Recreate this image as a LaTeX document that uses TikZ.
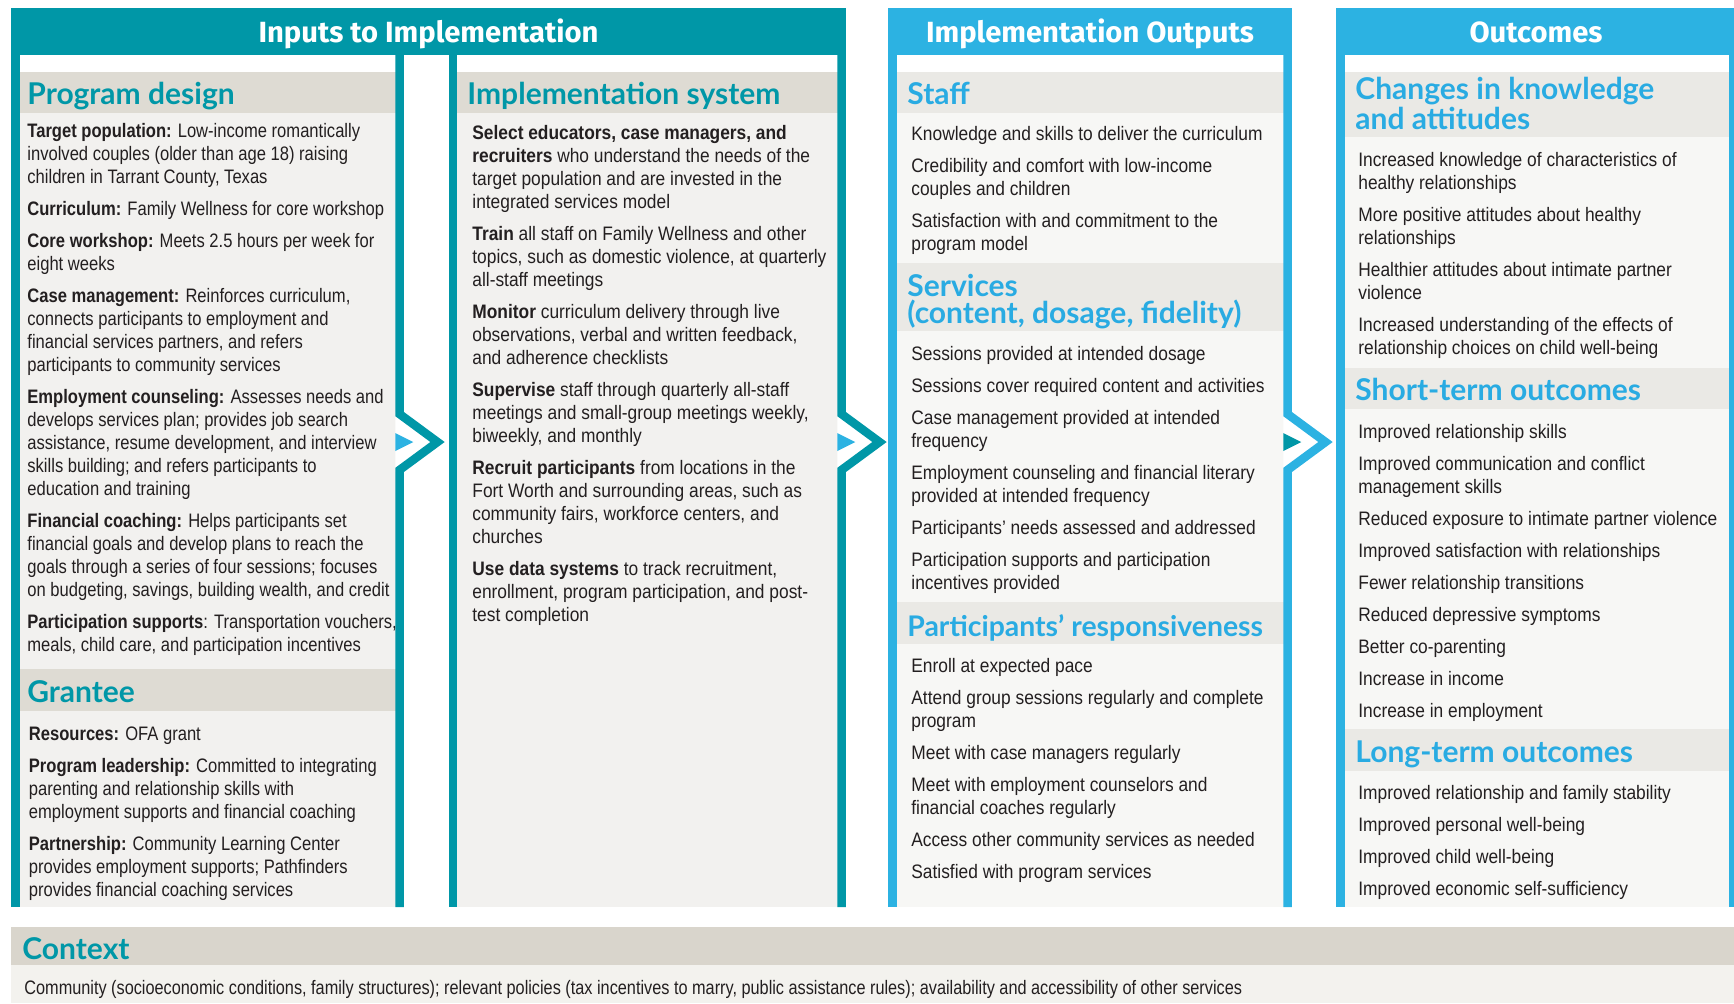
\documentclass[tikz,border=0pt]{standalone}
\usepackage{fontspec}
\setmainfont{Liberation Sans}[FakeStretch=0.89]
\newfontfamily\narrowfont{Liberation Sans}[FakeStretch=0.85]
\newfontfamily\headfont{Lato}
\newfontfamily\colfont{Fira Sans}
\newfontfamily\ctxfont{Liberation Sans}[FakeStretch=0.835]

\definecolor{tealrim}{RGB}{0,151,167}
\definecolor{skyrim}{RGB}{44,178,226}
\definecolor{skyhead}{RGB}{41,171,226}
\definecolor{bandA}{RGB}{222,219,211}
\definecolor{fillA}{RGB}{242,241,239}
\definecolor{bandB}{RGB}{234,233,229}
\definecolor{fillB}{RGB}{247,247,245}
\definecolor{ctxband}{RGB}{217,213,204}
\definecolor{ctxfill}{RGB}{243,242,238}
\definecolor{inkgray}{RGB}{35,31,32}

\begin{document}
\begin{tikzpicture}[x=0.5pt, y=-0.5pt]
\tikzstyle{rim}=[line width=4.25pt]
\tikzstyle{colhead}=[anchor=base, inner sep=0pt, text=white, font=\colfont\bfseries\fontsize{14.6}{16}\selectfont]
\tikzstyle{heada}=[anchor=base west, align=left, inner sep=0pt, text=tealrim, font=\headfont\bfseries\fontsize{15}{13.5}\selectfont]
\tikzstyle{headb}=[heada, text=skyhead]
\tikzstyle{body}=[anchor=base west, align=left, inner sep=0pt, text=inkgray, font=\fontsize{9.75}{11.5}\selectfont]
\tikzstyle{narrowbody}=[body, font=\narrowfont\fontsize{9.75}{11.5}\selectfont]

\useasboundingbox (0,0) rectangle (1734,1003);

\fill[bandA] (20,72) rectangle (399.5,113);
\fill[fillA] (20,113) rectangle (399.5,669);
\fill[bandA] (20,669) rectangle (399.5,711);
\fill[fillA] (20,711) rectangle (399.5,907);
\fill[bandA] (453,72) rectangle (841.5,113);
\fill[fillA] (453,113) rectangle (841.5,907);

\fill[bandB] (892.5,72) rectangle (1287.5,113);
\fill[fillB] (892.5,113) rectangle (1287.5,263);
\fill[bandB] (892.5,263) rectangle (1287.5,331);
\fill[fillB] (892.5,331) rectangle (1287.5,602);
\fill[bandB] (892.5,602) rectangle (1287.5,644);
\fill[fillB] (892.5,644) rectangle (1287.5,907);

\fill[bandB] (1340.5,72) rectangle (1733.5,137);
\fill[fillB] (1340.5,137) rectangle (1733.5,368);
\fill[bandB] (1340.5,368) rectangle (1733.5,409);
\fill[fillB] (1340.5,409) rectangle (1733.5,729);
\fill[bandB] (1340.5,729) rectangle (1733.5,771);
\fill[fillB] (1340.5,771) rectangle (1733.5,907);

\fill[ctxband] (11,927) rectangle (1734,965);
\fill[ctxfill] (11,965) rectangle (1734,1003);

\fill[white] (395.25,412) -- (439.5,442) -- (395.25,472) -- cycle;
\fill[white] (837.25,412) -- (881.5,442) -- (837.25,472) -- cycle;
\fill[white] (1283.25,412) -- (1327.5,442) -- (1283.25,472) -- cycle;
\fill[skyrim] (395.25,433) -- (413.25,442) -- (395.25,451) -- cycle;
\fill[skyrim] (837.25,433) -- (855.25,442) -- (837.25,451) -- cycle;
\fill[tealrim] (1283.25,433) -- (1301.25,442) -- (1283.25,451) -- cycle;

\fill[tealrim] (11,8) rectangle (846,55);
\fill[skyrim] (888,8) rectangle (1292,55);
\fill[skyrim] (1336,8) rectangle (1740,55);

\draw[rim, tealrim] (15.5,55) -- (15.5,907);
\draw[rim, tealrim] (399.5,55) -- (399.5,414) -- (437.5,442) -- (399.5,470) -- (399.5,907);
\draw[rim, tealrim] (453,55) -- (453,907);
\draw[rim, tealrim] (841.5,55) -- (841.5,414) -- (879.5,442) -- (841.5,470) -- (841.5,907);
\draw[rim, skyrim] (892.5,55) -- (892.5,907);
\draw[rim, skyrim] (1287.5,55) -- (1287.5,414) -- (1325.5,442) -- (1287.5,470) -- (1287.5,907);
\draw[rim, skyrim] (1340.5,55) -- (1340.5,907);
\draw[rim, skyrim] (1733.5,55) -- (1733.5,907);

\node[colhead] at (428.5,42.5) (inputs) {Inputs to Implementation};
\node[colhead] at (1090,42.5) (outputs) {Implementation Outputs};
\node[colhead] at (1536,42.5) (outcomes) {Outcomes};

\node[heada] at (27,104) (designhead) {Program design};
\node[narrowbody] at (27,651) (design) {\textbf{Target population:} Low-income romantically\\
involved couples (older than age 18) raising\\
children in Tarrant County, Texas\\[4.5pt]
\textbf{Curriculum:} Family Wellness for core workshop\\[4.5pt]
\textbf{Core workshop:} Meets 2.5 hours per week for\\
eight weeks\\[4.5pt]
\textbf{Case management:} Reinforces curriculum,\\
connects participants to employment and\\
financial services partners, and refers\\
participants to community services\\[4.5pt]
\textbf{Employment counseling:} Assesses needs and\\
develops services plan; provides job search\\
assistance, resume development, and interview\\
skills building; and refers participants to\\
education and training\\[4.5pt]
\textbf{Financial coaching:} Helps participants set\\
financial goals and develop plans to reach the\\
goals through a series of four sessions; focuses\\
on budgeting, savings, building wealth, and credit\\[4.5pt]
\textbf{Participation supports}: Transportation vouchers,\\
meals, child care, and participation incentives};

\node[heada] at (27,702) (granteehead) {Grantee};
\node[narrowbody] at (28.5,896) (grantee) {\textbf{Resources:} OFA grant\\[4.5pt]
\textbf{Program leadership:} Committed to integrating\\
parenting and relationship skills with\\
employment supports and financial coaching\\[4.5pt]
\textbf{Partnership:} Community Learning Center\\
provides employment supports; Pathfinders\\
provides financial coaching services};

\node[heada] at (467,104) (systemhead) {Implementation system};
\node[body] at (472,621.5) (system) {\textbf{Select educators, case managers, and}\\
\textbf{recruiters} who understand the needs of the\\
target population and are invested in the\\
integrated services model\\[4.5pt]
\textbf{Train} all staff on Family Wellness and other\\
topics, such as domestic violence, at quarterly\\
all-staff meetings\\[4.5pt]
\textbf{Monitor} curriculum delivery through live\\
observations, verbal and written feedback,\\
and adherence checklists\\[4.5pt]
\textbf{Supervise} staff through quarterly all-staff\\
meetings and small-group meetings weekly,\\
biweekly, and monthly\\[4.5pt]
\textbf{Recruit participants} from locations in the\\
Fort Worth and surrounding areas, such as\\
community fairs, workforce centers, and\\
churches\\[4.5pt]
\textbf{Use data systems} to track recruitment,\\
enrollment, program participation, and post-\\
test completion};

\node[headb] at (907,104) (staffhead) {Staff};
\node[body] at (911,250.5) (staff) {Knowledge and skills to deliver the curriculum\\[4.5pt]
Credibility and comfort with low-income\\
couples and children\\[4.5pt]
Satisfaction with and commitment to the\\
program model};

\node[headb] at (907,323) (serviceshead) {Services\\(content, dosage, fidelity)};
\node[body] at (911,589) (services) {Sessions provided at intended dosage\\[4.5pt]
Sessions cover required content and activities\\[4.5pt]
Case management provided at intended\\
frequency\\[4.5pt]
Employment counseling and financial literary\\
provided at intended frequency\\[4.5pt]
Participants’ needs assessed and addressed\\[4.5pt]
Participation supports and participation\\
incentives provided};

\node[headb, font=\headfont\bfseries\fontsize{14.2}{13.5}\selectfont] at (907,636) (responsehead) {Participants’ responsiveness};
\node[body] at (911,878.5) (response) {Enroll at expected pace\\[4.5pt]
Attend group sessions regularly and complete\\
program\\[4.5pt]
Meet with case managers regularly\\[4.5pt]
Meet with employment counselors and\\
financial coaches regularly\\[4.5pt]
Access other community services as needed\\[4.5pt]
Satisfied with program services};

\node[headb] at (1355,129) (changeshead) {Changes in knowledge\\and attitudes};
\node[body] at (1358,354.5) (changes) {Increased knowledge of characteristics of\\
healthy relationships\\[4.5pt]
More positive attitudes about healthy\\
relationships\\[4.5pt]
Healthier attitudes about intimate partner\\
violence\\[4.5pt]
Increased understanding of the effects of\\
relationship choices on child well-being};

\node[headb] at (1355,400) (shorthead) {Short-term outcomes};
\node[body] at (1358,717) (short) {Improved relationship skills\\[4.5pt]
Improved communication and conflict\\
management skills\\[4.5pt]
Reduced exposure to intimate partner violence\\[4.5pt]
Improved satisfaction with relationships\\[4.5pt]
Fewer relationship transitions\\[4.5pt]
Reduced depressive symptoms\\[4.5pt]
Better co-parenting\\[4.5pt]
Increase in income\\[4.5pt]
Increase in employment};

\node[headb] at (1355,762) (longhead) {Long-term outcomes};
\node[body] at (1358,895) (long) {Improved relationship and family stability\\[4.5pt]
Improved personal well-being\\[4.5pt]
Improved child well-being\\[4.5pt]
Improved economic self-sufficiency};

\node[heada] at (22,959) (contexthead) {Context};
\node[body, font=\ctxfont\fontsize{9.75}{11}\selectfont] at (24,994) (context) {Community (socioeconomic conditions, family structures); relevant policies (tax incentives to marry, public assistance rules); availability and accessibility of other services};
\end{tikzpicture}
\end{document}
